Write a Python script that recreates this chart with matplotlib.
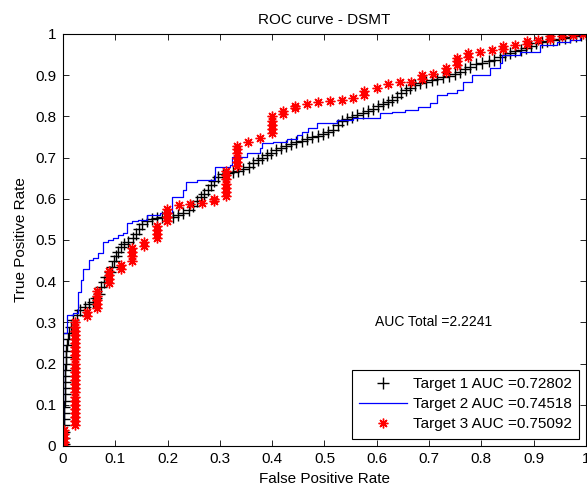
import numpy as np
import matplotlib.pyplot as plt

plt.rcParams['font.family'] = ['Liberation Sans', 'DejaVu Sans']
plt.rcParams['font.size'] = 11

# Target 1 (black +)
fpr1 = [0.001, 0.001, 0.001, 0.002, 0.002, 0.002, 0.002, 0.003, 0.003, 0.003,
        0.004, 0.004, 0.004, 0.005, 0.005, 0.006, 0.008, 0.010, 0.012, 0.015,
        0.019, 0.026, 0.033, 0.042, 0.050, 0.057, 0.063, 0.068, 0.073, 0.078,
        0.083, 0.089, 0.093, 0.097, 0.101, 0.106, 0.110, 0.117, 0.125, 0.133,
        0.139, 0.145, 0.152, 0.160, 0.170, 0.180, 0.190, 0.200, 0.210, 0.220,
        0.230, 0.240, 0.249, 0.256, 0.263, 0.270, 0.277, 0.283, 0.289, 0.296,
        0.305, 0.315, 0.325, 0.335, 0.345, 0.355, 0.363, 0.372, 0.381, 0.390,
        0.398, 0.407, 0.416, 0.426, 0.436, 0.446, 0.457, 0.467, 0.477, 0.487,
        0.497, 0.507, 0.517, 0.525, 0.533, 0.543, 0.553, 0.563, 0.573, 0.583,
        0.593, 0.603, 0.612, 0.621, 0.630, 0.638, 0.646, 0.655, 0.664, 0.673,
        0.683, 0.694, 0.705, 0.716, 0.727, 0.738, 0.749, 0.759, 0.769, 0.779,
        0.790, 0.802, 0.814, 0.825, 0.835, 0.845, 0.855, 0.865, 0.875, 0.885,
        0.895, 0.905, 0.915, 0.926, 0.937, 0.948, 0.959, 0.969, 0.980, 0.990,
        1.000]
tpr1 = [0.005, 0.020, 0.035, 0.050, 0.065, 0.080, 0.095, 0.110, 0.125, 0.140,
        0.155, 0.170, 0.185, 0.200, 0.215, 0.230, 0.245, 0.260, 0.275, 0.290,
        0.305, 0.318, 0.330, 0.338, 0.345, 0.350, 0.360, 0.370, 0.385, 0.398,
        0.410, 0.422, 0.435, 0.448, 0.460, 0.472, 0.482, 0.490, 0.496, 0.505,
        0.515, 0.527, 0.538, 0.546, 0.550, 0.554, 0.556, 0.556, 0.557, 0.560,
        0.566, 0.574, 0.582, 0.594, 0.604, 0.612, 0.622, 0.633, 0.643, 0.652,
        0.660, 0.663, 0.665, 0.668, 0.672, 0.678, 0.686, 0.694, 0.700, 0.706,
        0.712, 0.718, 0.723, 0.728, 0.733, 0.737, 0.741, 0.744, 0.749, 0.753,
        0.758, 0.762, 0.768, 0.778, 0.788, 0.794, 0.799, 0.804, 0.809, 0.814,
        0.819, 0.825, 0.830, 0.835, 0.841, 0.848, 0.856, 0.863, 0.870, 0.876,
        0.881, 0.884, 0.888, 0.891, 0.895, 0.899, 0.904, 0.908, 0.914, 0.920,
        0.926, 0.930, 0.934, 0.938, 0.943, 0.949, 0.954, 0.958, 0.962, 0.966,
        0.971, 0.977, 0.980, 0.982, 0.985, 0.988, 0.990, 0.993, 0.996, 0.998,
        1.000]

# Target 2 (blue staircase)
fpr2 = [0, 0, 0.008, 0.019, 0.029, 0.034, 0.038, 0.050, 0.057, 0.067,
        0.076, 0.086, 0.096, 0.105, 0.115, 0.122, 0.132, 0.143, 0.161, 0.185,
        0.208, 0.229, 0.235, 0.256, 0.291, 0.319, 0.323, 0.352, 0.377, 0.380,
        0.402, 0.428, 0.447, 0.457, 0.468, 0.486, 0.524, 0.554, 0.606, 0.629,
        0.654, 0.679, 0.702, 0.715, 0.734, 0.753, 0.765, 0.782, 0.816, 0.836,
        0.839, 0.874, 0.912, 0.945, 0.969, 0.989, 1.0]
tpr2 = [0, 0.274, 0.318, 0.323, 0.374, 0.403, 0.430, 0.451, 0.456, 0.468,
        0.495, 0.500, 0.505, 0.512, 0.517, 0.541, 0.546, 0.549, 0.561, 0.566,
        0.604, 0.621, 0.641, 0.646, 0.677, 0.682, 0.701, 0.711, 0.723, 0.735,
        0.738, 0.745, 0.755, 0.762, 0.772, 0.784, 0.791, 0.796, 0.808, 0.811,
        0.816, 0.823, 0.833, 0.852, 0.857, 0.864, 0.883, 0.900, 0.917, 0.930,
        0.949, 0.956, 0.973, 0.981, 0.985, 0.998, 1.0]

# Target 3 (red *)
fpr3 = [0.001, 0.001, 0.001, 0.001, 0.001,
        0.023, 0.023, 0.023, 0.023, 0.023, 0.023, 0.023, 0.023, 0.023, 0.023,
        0.023, 0.023, 0.023, 0.023, 0.023, 0.023, 0.023, 0.023, 0.023, 0.023,
        0.023, 0.023, 0.023, 0.023, 0.023, 0.023,
        0.046, 0.046,
        0.065, 0.065, 0.065, 0.065, 0.065,
        0.088, 0.088, 0.088, 0.088,
        0.111, 0.111,
        0.132, 0.132, 0.132, 0.132,
        0.155, 0.155,
        0.180, 0.180, 0.180, 0.180,
        0.199, 0.199, 0.199, 0.199,
        0.221, 0.243, 0.266, 0.288, 0.288,
        0.312, 0.312, 0.312, 0.312, 0.312, 0.312, 0.312,
        0.333, 0.333, 0.333, 0.333, 0.333, 0.333,
        0.354, 0.377,
        0.400, 0.400, 0.400, 0.400, 0.400,
        0.421, 0.421, 0.444, 0.444, 0.466, 0.488, 0.511, 0.533, 0.555,
        0.576, 0.576,
        0.600, 0.621, 0.644, 0.665,
        0.686, 0.686, 0.707, 0.732, 0.732,
        0.753, 0.753, 0.753, 0.774, 0.774,
        0.797, 0.820, 0.841, 0.841, 0.864, 0.887, 0.887, 0.908,
        0.931, 0.931, 0.954, 0.975, 0.994]
tpr3 = [0.000, 0.010, 0.020, 0.030, 0.040,
        0.050, 0.060, 0.070, 0.080, 0.090, 0.100, 0.110, 0.120, 0.130, 0.140,
        0.150, 0.160, 0.170, 0.180, 0.190, 0.200, 0.210, 0.220, 0.230, 0.240,
        0.250, 0.260, 0.270, 0.280, 0.290, 0.300,
        0.315, 0.325,
        0.335, 0.345, 0.355, 0.365, 0.375,
        0.395, 0.405, 0.415, 0.425,
        0.430, 0.440,
        0.450, 0.460, 0.470, 0.480,
        0.485, 0.495,
        0.505, 0.515, 0.525, 0.535,
        0.545, 0.555, 0.565, 0.575,
        0.585, 0.587, 0.590, 0.595, 0.600,
        0.607, 0.617, 0.627, 0.637, 0.647, 0.657, 0.667,
        0.680, 0.690, 0.700, 0.710, 0.720, 0.728,
        0.738, 0.748,
        0.760, 0.770, 0.780, 0.790, 0.800,
        0.807, 0.813, 0.820, 0.826, 0.831, 0.835, 0.838, 0.840, 0.845,
        0.852, 0.862,
        0.869, 0.879, 0.883, 0.884,
        0.890, 0.900, 0.902, 0.908, 0.918,
        0.925, 0.935, 0.942, 0.945, 0.955,
        0.957, 0.961, 0.964, 0.971, 0.973, 0.976, 0.983, 0.986,
        0.988, 0.994, 0.996, 0.998, 0.999]

auc = [0.72802, 0.74518, 0.75092]
auc_total = 2.2241

fig = plt.figure(figsize=(5.87, 4.87), dpi=100)
ax = fig.add_axes([0.1073, 0.0842, 0.891, 0.846])

ax.plot(fpr1, tpr1, '+', color='black', ms=8, mew=1.0,
        label='Target 1 AUC =%.5f' % auc[0])
ax.plot(fpr2, tpr2, '-', color='blue', lw=0.9, drawstyle='steps-post',
        label='Target 2 AUC =%.5f' % auc[1])
ax.plot(fpr3, tpr3, ls='none', marker=(8, 2, 0), color='red', ms=7, mew=1.0,
        label='Target 3 AUC =%.5f' % auc[2])

ax.text(0.597, 0.30, 'AUC Total =%.4f' % auc_total, va='center', ha='left',
        fontsize=10)

ax.set_xlim(0, 1)
ax.set_ylim(0, 1)
ticks = np.arange(0, 1.01, 0.1)
labels = ['0'] + ['%.1f' % t for t in ticks[1:-1]] + ['1']
ax.set_xticks(ticks)
ax.set_xticklabels(labels)
ax.set_yticks(ticks)
ax.set_yticklabels(labels)
ax.tick_params(direction='in', top=True, right=True, length=4, width=0.6)
ax.tick_params(axis='x', pad=4)
ax.tick_params(axis='y', pad=5)
for s in ax.spines.values():
    s.set_linewidth(0.8)

ax.set_xlabel('False Positive Rate', labelpad=5)
ax.set_ylabel('True Positive Rate', labelpad=5)
ax.set_title('ROC curve - DSMT', fontsize=11, pad=7)

leg = ax.legend(loc='lower right', fancybox=False, edgecolor='black',
                framealpha=1, handlelength=3.1, borderaxespad=0.45,
                labelspacing=0.4, handletextpad=0.4, borderpad=0.5)
leg.get_frame().set_linewidth(0.8)

fig.savefig('out.png', dpi=100)
